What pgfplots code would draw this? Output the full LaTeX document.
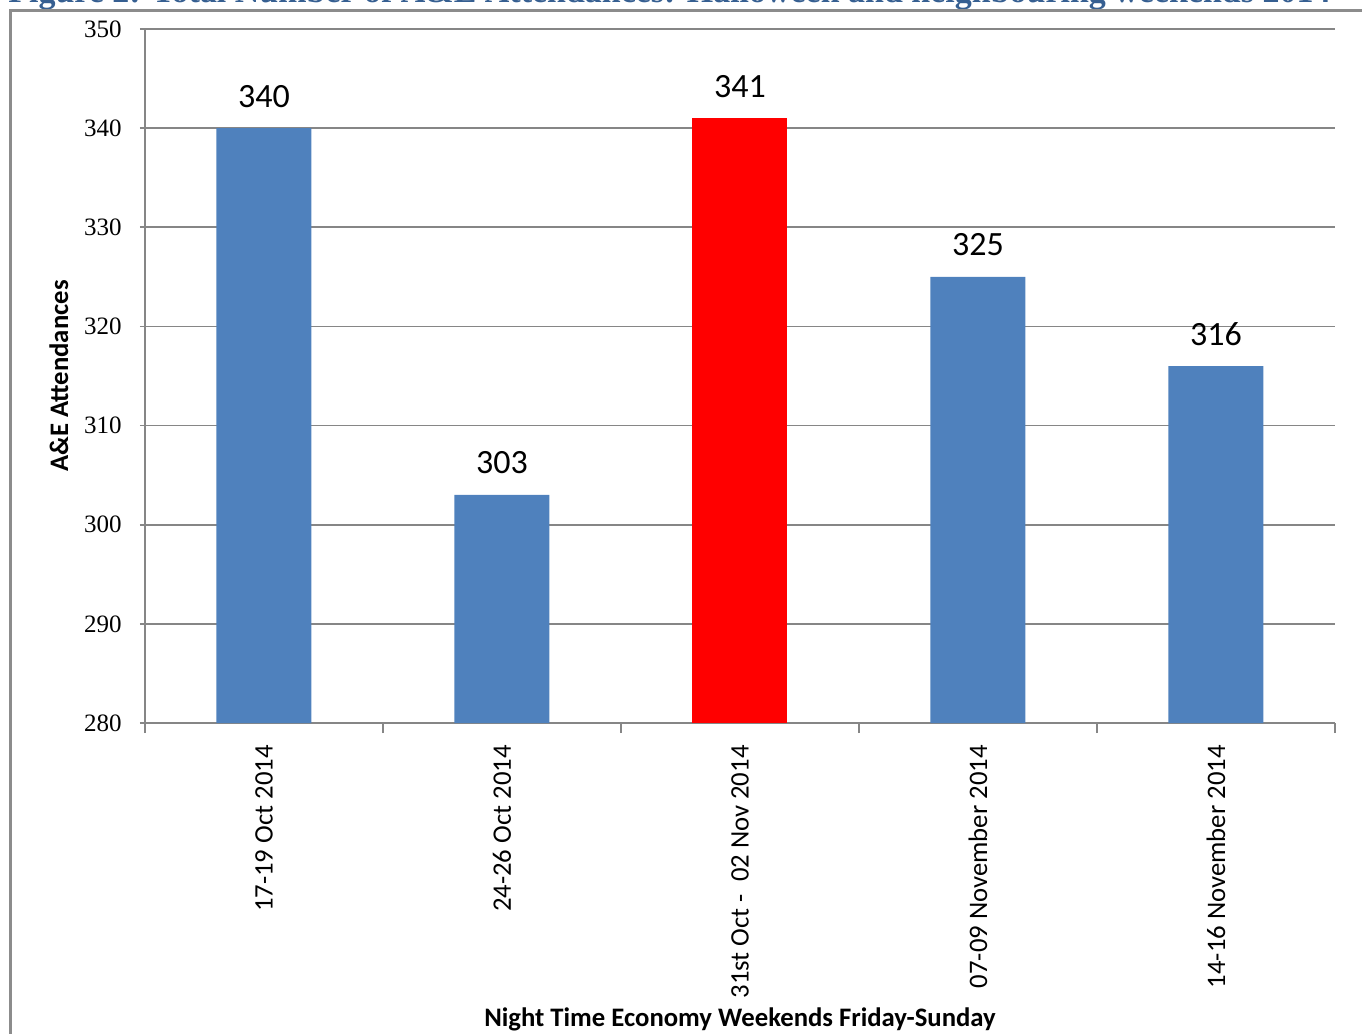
\documentclass[border=0pt]{standalone}
\usepackage{fontspec}
\setmainfont{Carlito}
\newfontfamily\numfont{Liberation Serif}
\newfontfamily\headfont{Liberation Serif}
\usepackage{pgfplots}
\pgfplotsset{compat=1.18}
\definecolor{barblue}{HTML}{4F81BD}
\definecolor{gridgray}{HTML}{868686}
\definecolor{framegray}{HTML}{8C8C8C}
\definecolor{headblue}{HTML}{365F91}

\begin{document}
\begin{tikzpicture}
\useasboundingbox (0,0) rectangle (681pt,-517pt);
% caption line sitting at the very top of the page
\node[anchor=base west, inner sep=0pt, text=headblue] at (4pt,-1.2pt)
  {\resizebox{661pt}{!}{\headfont\bfseries Figure 2: Total Number of A\&E Attendances: Halloween and neighbouring weekends 2014}};
% frame around the chart
\draw[framegray, line width=1.5pt] (5pt,-540pt) -- (5pt,-5pt) -- (700pt,-5pt);
\begin{axis}[
  at={(72.5pt,-14.5pt)}, anchor=north west,
  width=595pt, height=347pt, scale only axis,
  ymin=280, ymax=350, ytick={280,290,...,350},
  xmin=-0.5, xmax=4.5,
  axis lines*=left,
  axis line style={gridgray, line width=0.8pt},
  ymajorgrids, grid style={gridgray, line width=0.8pt},
  tick align=outside,
  major tick length=2.5pt, minor tick length=5pt,
  xtick={0,1,2,3,4},
  xticklabels={17-19 Oct 2014, 24-26 Oct 2014, {31st Oct -\ \ 02 Nov 2014}, 07-09 November 2014, 14-16 November 2014},
  minor xtick={-0.5,0.5,...,4.5},
  major x tick style={draw=none},
  minor x tick style={gridgray, line width=0.8pt},
  y tick style={gridgray, line width=0.8pt},
  /pgf/number format/assume math mode=true,
  yticklabel style={font=\numfont\fontsize{12.5}{14}\selectfont, anchor=east, inner sep=0pt, xshift=-9pt},
  xticklabel style={font=\fontsize{13.35}{16}\selectfont, yshift=-8.5pt, rotate=90, anchor=east, inner sep=0pt},
  ylabel={A\&E Attendances},
  xlabel={Night Time Economy Weekends Friday-Sunday},
  every axis y label/.style={at={(axis description cs:-0.0723,0.5)}, rotate=90, anchor=center, font=\bfseries\fontsize{13.35}{16}\selectfont},
  every axis x label/.style={at={(axis description cs:0.5,-0.4265)}, anchor=center, font=\bfseries\fontsize{13.35}{16}\selectfont},
  ybar, bar width=47.5pt,
  nodes near coords,
  every node near coord/.append style={font=\fontsize{17}{20}\selectfont, anchor=base, inner sep=0pt, yshift=10.5pt, text=black},
  clip=false,
]
\addplot[fill=barblue, draw=none, bar shift=0pt] coordinates {(0,340) (1,303) (3,325) (4,316)};
\addplot[fill=red, draw=none, bar shift=0pt] coordinates {(2,341)};
\end{axis}
\end{tikzpicture}
\end{document}
